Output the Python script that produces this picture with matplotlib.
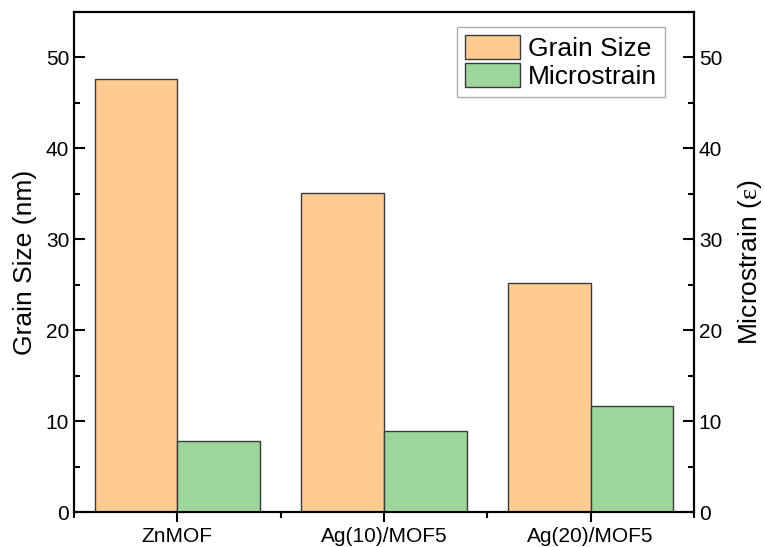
import matplotlib.pyplot as plt
import numpy as np
from matplotlib.ticker import MultipleLocator

plt.rcParams['font.family'] = ['Liberation Sans', 'DejaVu Sans']
plt.rcParams['mathtext.fontset'] = 'custom'
plt.rcParams['mathtext.rm'] = 'Liberation Serif'

samples = ['ZnMOF', 'Ag(10)/MOF5', 'Ag(20)/MOF5']
grain_size = [47.6, 35.1, 25.2]
microstrain = [7.8, 8.9, 11.7]

x = np.arange(len(samples))
w = 0.4

fig = plt.figure(figsize=(7.65, 5.47), dpi=100)
ax1 = fig.add_axes([74 / 765, 35 / 547, 620 / 765, 500 / 547])
ax2 = ax1.twinx()

b1 = ax1.bar(x - w / 2, grain_size, w, color='#fecb92', edgecolor='#3a3a3a', linewidth=1.0, label='Grain Size')
b2 = ax2.bar(x + w / 2, microstrain, w, color='#9dd69b', edgecolor='#3a3a3a', linewidth=1.0, label='Microstrain')

for ax in (ax1, ax2):
    ax.set_ylim(0, 55)
    ax.yaxis.set_major_locator(MultipleLocator(10))
    ax.yaxis.set_minor_locator(MultipleLocator(5))
    for s in ax.spines.values():
        s.set_linewidth(1.5)

ax1.set_xlim(-0.5, 2.5)
ax1.set_xticks(x)
ax1.set_xticklabels(samples)
ax1.xaxis.set_minor_locator(MultipleLocator(0.5))
ax1.tick_params(axis='x', which='major', direction='out', length=7, width=1.5, labelsize=15)
ax1.tick_params(axis='x', which='minor', direction='out', length=4, width=1.5)
ax1.tick_params(axis='y', which='major', direction='in', length=8, width=1.5, labelsize=15)
ax1.tick_params(axis='y', which='minor', direction='in', length=4, width=1.5)
ax2.tick_params(axis='y', which='major', direction='in', length=8, width=1.5, labelsize=15)
ax2.tick_params(axis='y', which='minor', direction='in', length=4, width=1.5)

ax1.set_ylabel('Grain Size (nm)', fontsize=19, labelpad=6)
ax2.set_ylabel(r'Microstrain ($\mathrm{\varepsilon}$)', fontsize=19, labelpad=10)

leg = ax1.legend(handles=[b1, b2], loc='upper right', bbox_to_anchor=(591 / 620, 485 / 500),
                 fontsize=19, frameon=True, fancybox=False, edgecolor='#999999',
                 handlelength=2.1, handleheight=1.0, borderpad=0.3, labelspacing=0.1,
                 handletextpad=0.3, borderaxespad=0)
leg.get_frame().set_linewidth(1.0)

fig.savefig('out.png', dpi=100)
